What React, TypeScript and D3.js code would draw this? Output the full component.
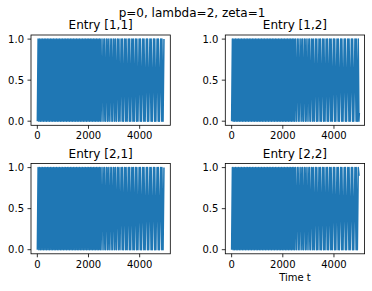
import { useEffect, useRef } from 'react';
import * as d3 from 'd3';

// turning points of the oscillation (same in all four panels)
const peakTimes = [
  30, 90, 150, 210, 270, 330, 390, 450, 510, 570, 630, 690, 750, 810, 870, 930, 990,
  1050, 1110, 1170, 1230, 1290, 1350, 1410, 1470, 1530, 1590, 1650, 1710, 1770, 1830,
  1890, 1950, 2010, 2070, 2130, 2190, 2250, 2310, 2370, 2430, 2490,
  2566, 2630, 2706, 2770, 2846, 2910, 2986, 3050, 3130, 3190, 3274, 3330, 3414, 3470,
  3554, 3610, 3694, 3750, 3834, 3890, 3978, 4030, 4118, 4170, 4260, 4310, 4400, 4450,
  4540, 4590, 4680, 4730, 4820, 4870, 4950,
];
const troughTimes = [
  0, 60, 120, 180, 240, 300, 360, 420, 480, 540, 600, 660, 720, 780, 840, 900, 960,
  1020, 1080, 1140, 1200, 1260, 1320, 1380, 1440, 1500, 1560, 1620, 1680, 1740, 1800,
  1860, 1920, 1980, 2040, 2100, 2160, 2220, 2280, 2340, 2400, 2460,
  2528, 2604, 2668, 2744, 2808, 2884, 2948, 3024, 3090, 3170, 3232, 3316, 3372, 3456,
  3512, 3596, 3652, 3736, 3792, 3876, 3934, 4022, 4074, 4162, 4215, 4305, 4355, 4445,
  4495, 4585, 4635, 4725, 4775, 4865, 4915,
];
const peakLevel = 1.0;
const troughLevel = 0.0;

const titles = ['Entry [1,1]', 'Entry [1,2]', 'Entry [2,1]', 'Entry [2,2]'];
// small tail at the very end of some panels
const tailTimes = [[], [4975, 4992], [], [4980]];
const tailValues = [[], [0.0, 0.1], [], [0.9]];

const xTicks = [0, 2000, 4000];
const yTicks = [0, 0.5, 1];
const yTickLabels = ['0.0', '0.5', '1.0'];

const suptitle = 'p=0, lambda=2, zeta=1';
const xLabel = 'Time t';

const App = () => {
  const svgRef = useRef<SVGSVGElement>(null);

  useEffect(() => {
    const svg = d3.select(svgRef.current);
    svg.selectAll('*').remove();

    const font = 'DejaVu Sans, sans-serif';
    const w = 139.3;
    const h = 90.3;
    const lefts = [31, 225.3];
    const tops = [35, 163.5];

    const base: [number, number][] = [
      ...peakTimes.map((t) => [t, peakLevel] as [number, number]),
      ...troughTimes.map((t) => [t, troughLevel] as [number, number]),
    ].sort((a, b) => a[0] - b[0]);

    svg.append('text')
      .attr('x', 192)
      .attr('y', 16.5)
      .attr('text-anchor', 'middle')
      .attr('font-family', font)
      .attr('font-size', 12)
      .text(suptitle);

    titles.forEach((title, i) => {
      const left = lefts[i % 2];
      const top = tops[Math.floor(i / 2)];

      const x = d3.scaleLinear().domain([-247.5, 5197.5]).range([0, w]);
      const y = d3.scaleLinear().domain([-0.05, 1.05]).range([h, 0]);

      const g = svg.append('g').attr('transform', `translate(${left},${top})`);

      const pts = base.concat(tailTimes[i].map((t, j) => [t, tailValues[i][j]] as [number, number]));

      const line = d3.line<[number, number]>()
        .x((d) => x(d[0]))
        .y((d) => y(d[1]));

      g.append('path')
        .datum(pts)
        .attr('fill', 'none')
        .attr('stroke', '#1f77b4')
        .attr('stroke-width', 1.5)
        .attr('stroke-linejoin', 'round')
        .attr('d', line);

      g.append('rect')
        .attr('width', w)
        .attr('height', h)
        .attr('fill', 'none')
        .attr('stroke', 'black')
        .attr('stroke-width', 0.8);

      xTicks.forEach((t) => {
        g.append('line')
          .attr('x1', x(t)).attr('x2', x(t))
          .attr('y1', h).attr('y2', h + 3.5)
          .attr('stroke', 'black').attr('stroke-width', 0.8);
        g.append('text')
          .attr('x', x(t))
          .attr('y', h + 14)
          .attr('text-anchor', 'middle')
          .attr('font-family', font)
          .attr('font-size', 10)
          .text(String(t));
      });

      yTicks.forEach((t, j) => {
        g.append('line')
          .attr('x1', -3.5).attr('x2', 0)
          .attr('y1', y(t)).attr('y2', y(t))
          .attr('stroke', 'black').attr('stroke-width', 0.8);
        g.append('text')
          .attr('x', -7)
          .attr('y', y(t) + 3.6)
          .attr('text-anchor', 'end')
          .attr('font-family', font)
          .attr('font-size', 10)
          .text(yTickLabels[j]);
      });

      g.append('text')
        .attr('x', w / 2)
        .attr('y', -6)
        .attr('text-anchor', 'middle')
        .attr('font-family', font)
        .attr('font-size', 12)
        .text(title);

      if (i === 3) {
        g.append('text')
          .attr('x', w / 2)
          .attr('y', h + 27)
          .attr('text-anchor', 'middle')
          .attr('font-family', font)
          .attr('font-size', 10)
          .text(xLabel);
      }
    });
  }, []);

  return (
    <svg
      ref={svgRef}
      width={372}
      height={291}
      style={{ position: 'absolute', left: 0, top: 0, background: 'white' }}
    ></svg>
  );
};

export default App;
